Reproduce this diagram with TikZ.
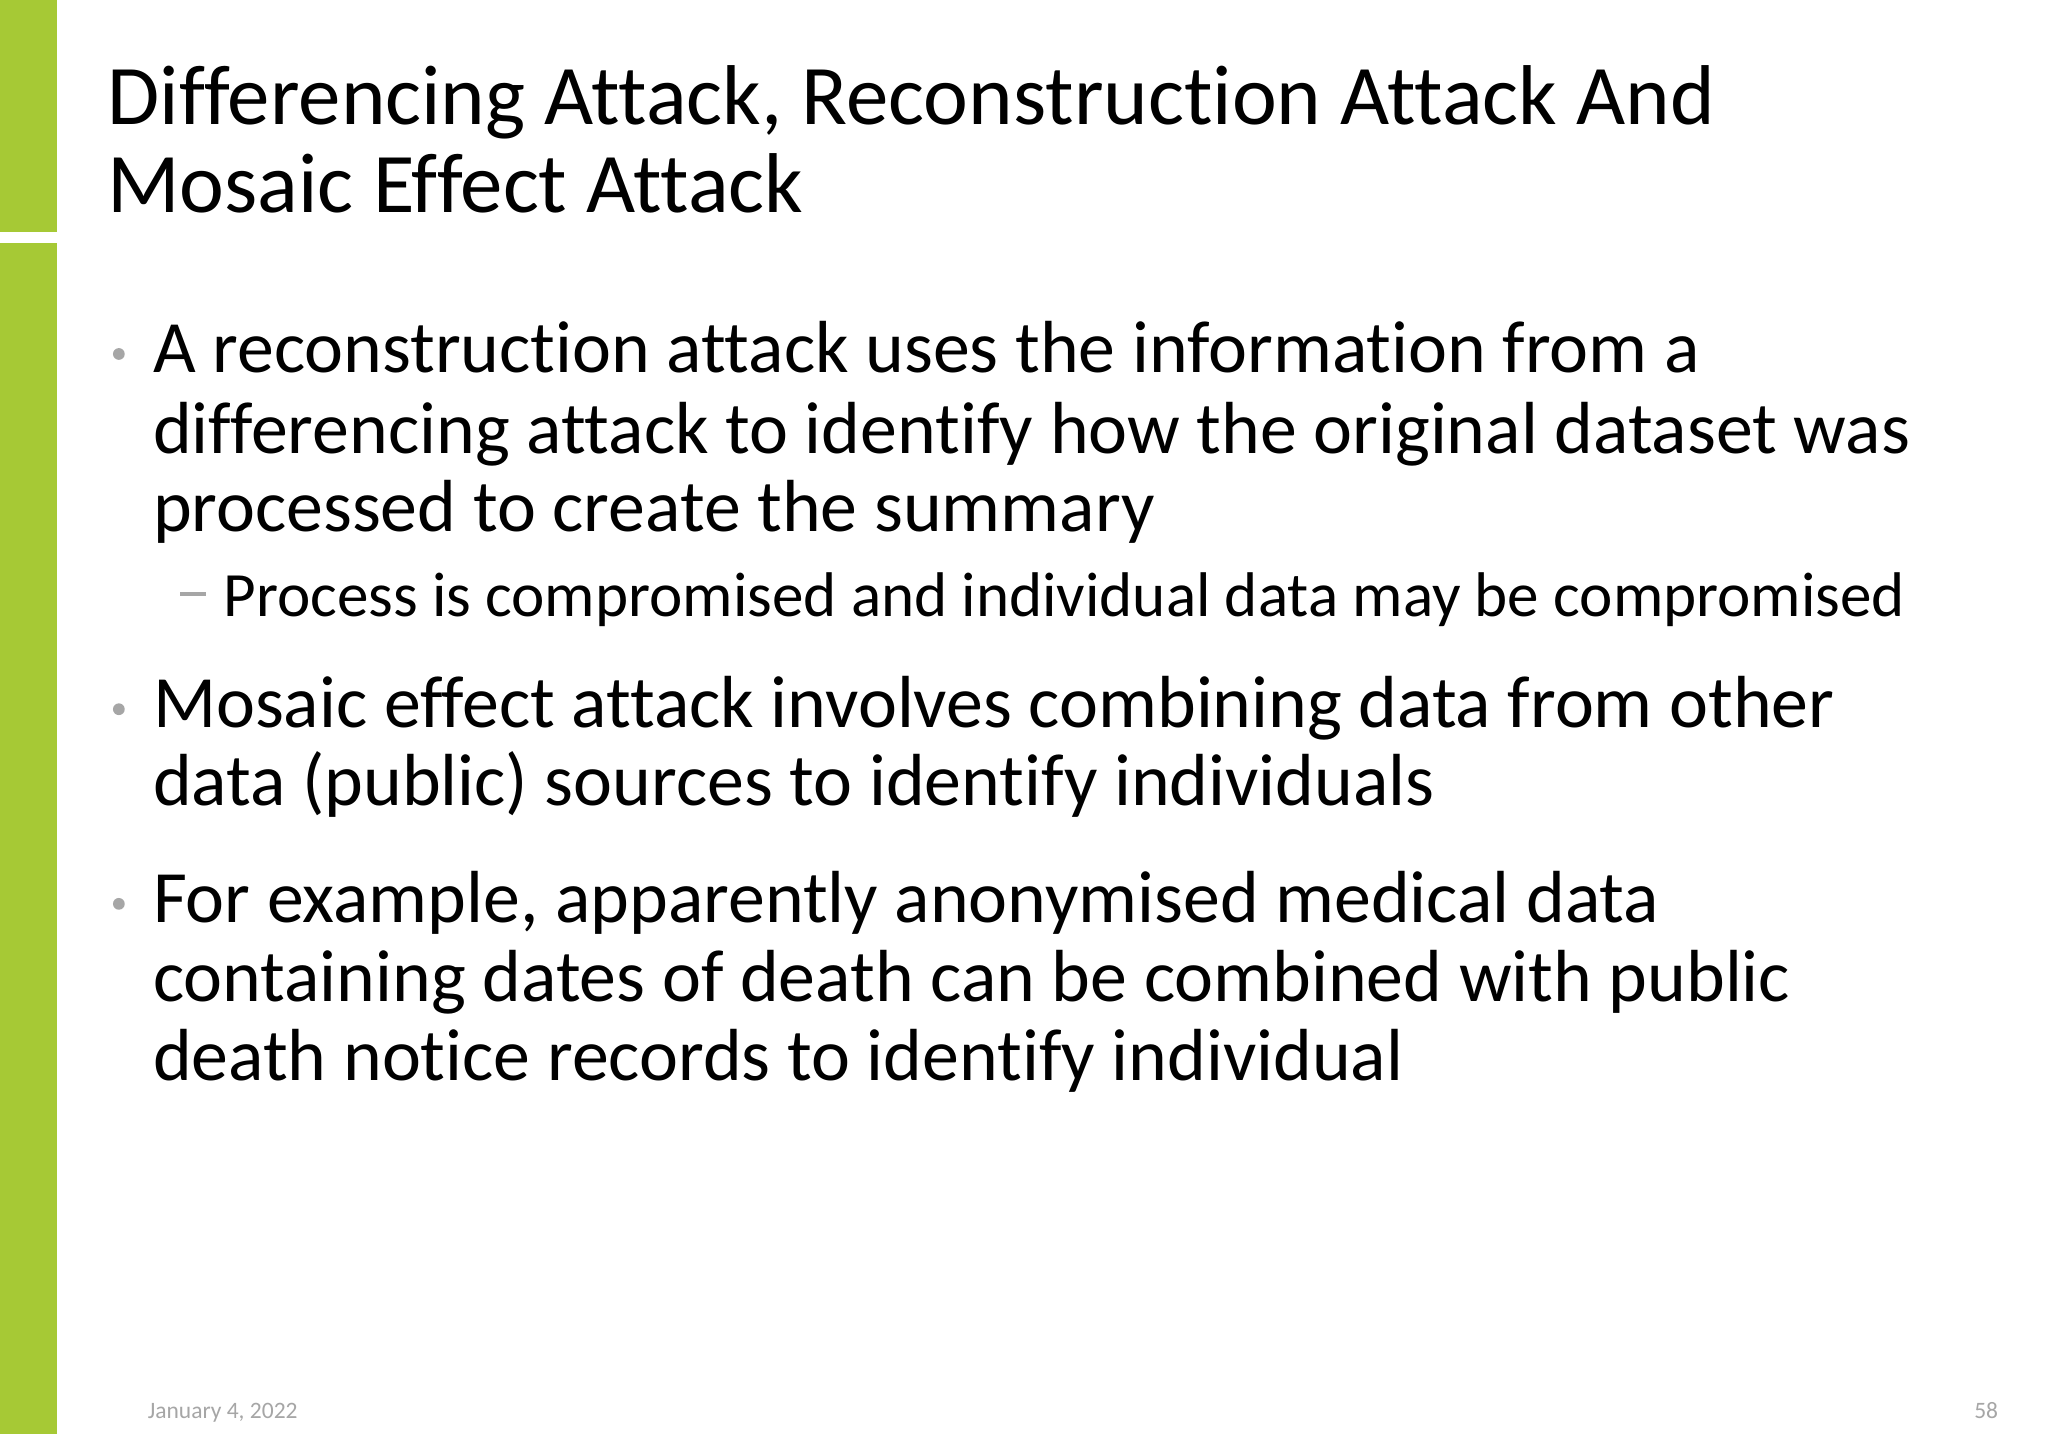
\documentclass[tikz,border=0pt]{standalone}
\usepackage{fontspec}
\setmainfont{Carlito}[Ligatures={NoCommon,NoDiscretionary,NoContextual}]
\definecolor{bar}{HTML}{A6C935}
\definecolor{dot}{HTML}{A6A6A6}
\begin{document}
\begin{tikzpicture}[x=1pt,y=-1pt,
  ttl/.style={anchor=base west,inner sep=0,font=\fontsize{65}{68}\selectfont},
  bl/.style={anchor=base west,inner sep=0,font=\fontsize{56.5}{60}\selectfont},
  sb/.style={anchor=base west,inner sep=0,font=\fontsize{48.3}{52}\selectfont},
  ft/.style={inner sep=0,font=\fontsize{18}{20}\selectfont,text=dot}]
\useasboundingbox (0,0) rectangle (1568,1098);
\fill[white] (0,0) rectangle (1568,1098);
\fill[bar] (0,0) rectangle (44,178);
\fill[bar] (0,186) rectangle (44,1098);
\node[ttl] (t1) at (82,95) {Differencing Attack, Reconstruction Attack And};
\node[ttl] (t2) at (82,163) {Mosaic Effect Attack};
\foreach \y in {285,557,706}{\fill[dot] (91,\y-14) circle (4.5);}
\node[bl] (a1) at (117,285) {A reconstruction attack uses the information from a};
\node[bl] (a2) at (117,347) {differencing attack to identify how the original dataset was};
\node[bl] (a3) at (117,407) {processed to create the summary};
\fill[dot] (138,453) rectangle (158,456);
\node[sb] (s1) at (171,472) {Process is compromised and individual data may be compromised};
\node[bl] (b1) at (117,557) {Mosaic effect attack involves combining data from other};
\node[bl] (b2) at (117,617) {data (public) sources to identify individuals};
\node[bl] (c1) at (117,706) {For example, apparently anonymised medical data};
\node[bl] (c2) at (117,767) {containing dates of death can be combined with public};
\node[bl] (c3) at (117,827) {death notice records to identify individual};
\node[ft,anchor=base west] (d) at (113,1086) {January 4, 2022};
\node[ft,anchor=base east] (n) at (1530,1086) {58};
\end{tikzpicture}
\end{document}
